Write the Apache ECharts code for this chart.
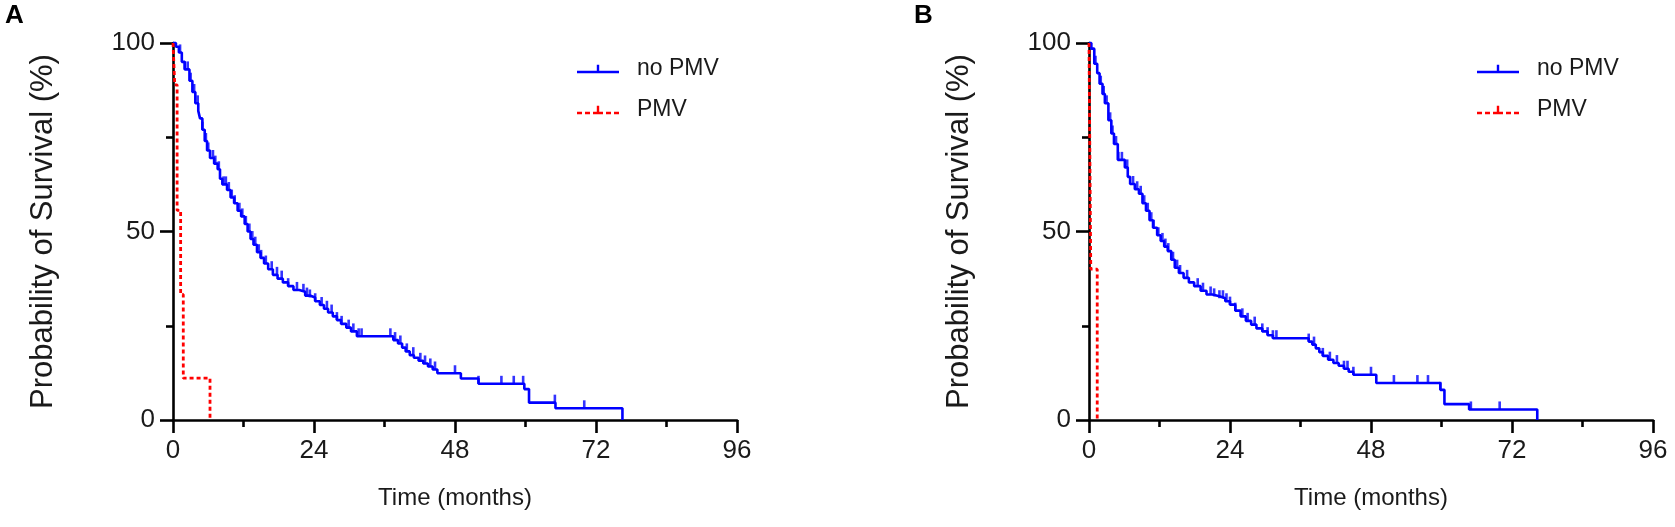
<!DOCTYPE html>
<html>
<head>
<meta charset="utf-8">
<script src="https://cdn.jsdelivr.net/npm/echarts@6/dist/echarts.min.js"></script>
<style>
html, body { margin: 0; padding: 0; background: #fff; }
#main { width: 1675px; height: 527px; }
</style>
</head>
<body>
<div id="main"></div>
<script>
// panel A, no PMV (step points: time in months, survival %)
var timeNoA = [0,0.5,1,1.5,2,2.8,3.3,3.8,4.3,4.6,5,5.4,5.8,6.3,7,7.6,8,8.4,9.2,9.8,10.4,11,11.6,12.2,12.7,13.2,13.7,14.3,14.9,15.5,16.2,17,17.8,18.7,19.6,20.5,21.5,22.5,23.3,24.2,25,25.7,26.4,27.2,27.9,28.6,29.5,30.3,31.3,37.5,38.3,39,39.6,40.3,41,41.8,42.6,43.4,44.2,45,49,52,59.8,60.6,65.1,76.5];
var survNoA = [100,99,97.5,95,93,90,87,84,82,80,77,74,71.5,69.5,68,66.5,64,62.5,61,59,57.5,55.5,54,52,50,48,46.5,44.5,43,41.5,40,38.5,37.5,36.5,35.5,34.5,34,33,32.5,31.5,30.5,29.5,28.5,27.5,26.5,25.5,24.5,23.5,22.2,21.2,20.3,19.2,18.2,17.2,16.5,15.7,15,14.2,13.4,12.4,11,9.6,8.2,4.6,3.1,0];
var censorNoA = [1.2,2,2.5,3,3.6,4.2,5,5.6,6,6.8,7.2,7.8,8.6,9,9.5,10,10.5,11.3,11.8,12.4,13,13.5,14,14.6,15,15.8,16.8,17.7,18.5,19.6,21.1,22.2,22.8,23.3,24.2,25.3,26.2,27,27.9,28.7,29.9,30.7,31.6,32.1,37,37.8,38.7,39.8,40.9,42.1,42.9,43.8,44.6,48,52,55.9,58,59.6,65,70];
// panel A, PMV
var timePmvA = [0,0.3,0.7,1.3,1.75,6.3];
var survPmvA = [100,88.9,55.6,33.3,11.1,0];

// panel B, no PMV
var timeNoB = [0,0.4,0.9,1.4,1.8,2.3,2.7,3.3,3.8,4.25,4.9,6.1,6.6,7,7.8,8.5,9.1,9.7,10.3,10.9,11.6,12.2,12.8,13.4,14,14.6,15.3,16.1,17,17.9,19,20,21,22.2,23.2,24,24.9,25.8,26.7,27.6,28.5,29.5,30.4,31.3,37.4,38,38.6,39.2,39.8,40.7,41.6,42.5,43.4,44.2,45,48.9,59.8,60.5,64.7,76.3];
var survNoB = [100,98.5,94.5,92,89.2,86.5,84,79.5,76,73.2,69,67,64.5,62.6,61.2,60,57.5,55.5,53,51,49,47.5,46,44.8,42.5,40.4,39,37.7,36.5,35.5,34.3,33.3,32.8,32.3,31.5,30.6,29,27.5,26.3,25.3,24.3,23.5,22.5,21.7,20.8,20,19,18,17,16,15.1,14.4,13.6,12.8,12,9.8,8,4.2,2.8,0];
var censorNoB = [1.1,2,2.5,3,3.6,4,4.6,5,5.6,6.5,7.5,8.2,8.8,9.4,10,10.6,11,11.8,12.5,13,13.5,14.3,15,15.5,16.7,18.5,19.4,20.7,21.3,22.2,22.8,23.4,24,24.9,26.1,27,28.2,29.5,30.4,31.3,31.9,37.4,38.3,39.8,41,42.2,43.4,44,45,48,51.9,55.9,57.7,59.8,65,69.9];
// panel B, PMV
var timePmvB = [0,0.1,0.3,1.4];
var survPmvB = [100,80,40,0];

var xTicks = [0, 24, 48, 72, 96];
var yTicks = [0, 50, 100];
var panelLabels = ['A', 'B'];
var groupNames = ['no PMV', 'PMV'];

var FONT = 'Liberation Sans, Arial, sans-serif';
var BLUE = '#0000ff';
var RED = '#ff0000';
var INK = '#1a1a1a';

function pairs(t, s) {
    var out = [];
    for (var i = 0; i < t.length; i++) out.push([t[i], s[i]]);
    return out;
}
function survAt(t, s, x) {
    var v = s[0];
    for (var i = 0; i < t.length; i++) {
        if (t[i] <= x) v = s[i];
    }
    return v;
}
function censorPoints(t, s, c) {
    var out = [];
    for (var i = 0; i < c.length; i++) out.push([c[i], survAt(t, s, c[i])]);
    return out;
}

var iconNo = 'path://M0,6h42v2.4H0z M19.8,0h2.4v6h-2.4z';
var iconPmv = 'path://M0,6h5v2.4H0z M8,6h5v2.4H8z M16,6h10v2.4H16z M19.8,0h2.4v6h-2.4z M29,6h5v2.4h-5z M37,6h5v2.4h-5z';

var grids = [
    {left: 173, top: 43, width: 564, height: 377},
    {left: 1089, top: 43, width: 564, height: 377}
];

function xAxisOf(i) {
    return {
        gridIndex: i, type: 'value', min: 0, max: 96, interval: 24,
        name: 'Time (months)', nameLocation: 'middle', nameGap: 66,
        nameTextStyle: {fontFamily: FONT, fontSize: 24, color: INK},
        axisLine: {show: true, lineStyle: {color: '#000', width: 2.6}},
        axisTick: {show: true, length: 13, lineStyle: {color: '#000', width: 2.6}},
        minorTick: {show: true, splitNumber: 2, length: 7, lineStyle: {color: '#000', width: 2.6}},
        axisLabel: {margin: 18, fontFamily: FONT, fontSize: 26, color: INK,
            formatter: function (v) { return xTicks.indexOf(v) >= 0 ? String(v) : ''; }},
        splitLine: {show: false}
    };
}
function yAxisOf(i) {
    return {
        gridIndex: i, type: 'value', min: 0, max: 100, interval: 50,
        name: 'Probability of Survival (%)', nameLocation: 'middle', nameGap: 114,
        nameTextStyle: {fontFamily: FONT, fontSize: 31, color: INK},
        axisLine: {show: true, lineStyle: {color: '#000', width: 2.6}},
        axisTick: {show: true, length: 13, lineStyle: {color: '#000', width: 2.6}},
        minorTick: {show: true, splitNumber: 2, length: 7, lineStyle: {color: '#000', width: 2.6}},
        axisLabel: {margin: 18, fontFamily: FONT, fontSize: 26, color: INK,
            formatter: function (v) { return yTicks.indexOf(v) >= 0 ? String(v) : ''; }},
        splitLine: {show: false}
    };
}

function legendOf(left) {
    return {
        orient: 'vertical', left: left, top: 50, itemGap: 13,
        itemWidth: 42, itemHeight: 8.4,
        itemStyle: {borderWidth: 0},
        textStyle: {fontFamily: FONT, fontSize: 23, color: INK, lineHeight: 28, padding: [0, 0, 0, 13]},
        data: [{name: groupNames[0], icon: iconNo}, {name: groupNames[1], icon: iconPmv}],
        selectedMode: false
    };
}

var curves = [
    {no: pairs(timeNoA, survNoA), pmv: pairs(timePmvA, survPmvA), cens: censorPoints(timeNoA, survNoA, censorNoA)},
    {no: pairs(timeNoB, survNoB), pmv: pairs(timePmvB, survPmvB), cens: censorPoints(timeNoB, survNoB, censorNoB)}
];

var series = [];
curves.forEach(function (c, i) {
    series.push({
        name: groupNames[0], type: 'line', xAxisIndex: i, yAxisIndex: i,
        step: 'end', data: c.no, showSymbol: false, clip: false, silent: true,
        color: BLUE, lineStyle: {color: BLUE, width: 2.6}, z: 3
    });
    series.push({
        name: groupNames[0] + ' censored', type: 'scatter', xAxisIndex: i, yAxisIndex: i,
        data: c.cens, symbol: 'rect', symbolSize: [2.6, 8], symbolOffset: [0, -4],
        itemStyle: {color: BLUE}, clip: false, silent: true, z: 3
    });
    series.push({
        name: groupNames[1], type: 'line', xAxisIndex: i, yAxisIndex: i,
        step: 'end', data: c.pmv, showSymbol: false, clip: false, silent: true,
        color: RED, lineStyle: {color: RED, width: 2.8, type: [4, 3]}, z: 4
    });
});

var chart = echarts.init(document.getElementById('main'), null, {renderer: 'canvas'});
chart.setOption({
    animation: false,
    backgroundColor: '#fff',
    title: [
        {text: panelLabels[0], left: 0, top: -2, textStyle: {fontFamily: FONT, fontSize: 26, fontWeight: 'bold', color: '#000'}},
        {text: panelLabels[1], left: 909, top: -2, textStyle: {fontFamily: FONT, fontSize: 26, fontWeight: 'bold', color: '#000'}}
    ],
    legend: [legendOf(572), legendOf(1472)],
    grid: grids,
    xAxis: [xAxisOf(0), xAxisOf(1)],
    yAxis: [yAxisOf(0), yAxisOf(1)],
    series: series
});
</script>
</body>
</html>
